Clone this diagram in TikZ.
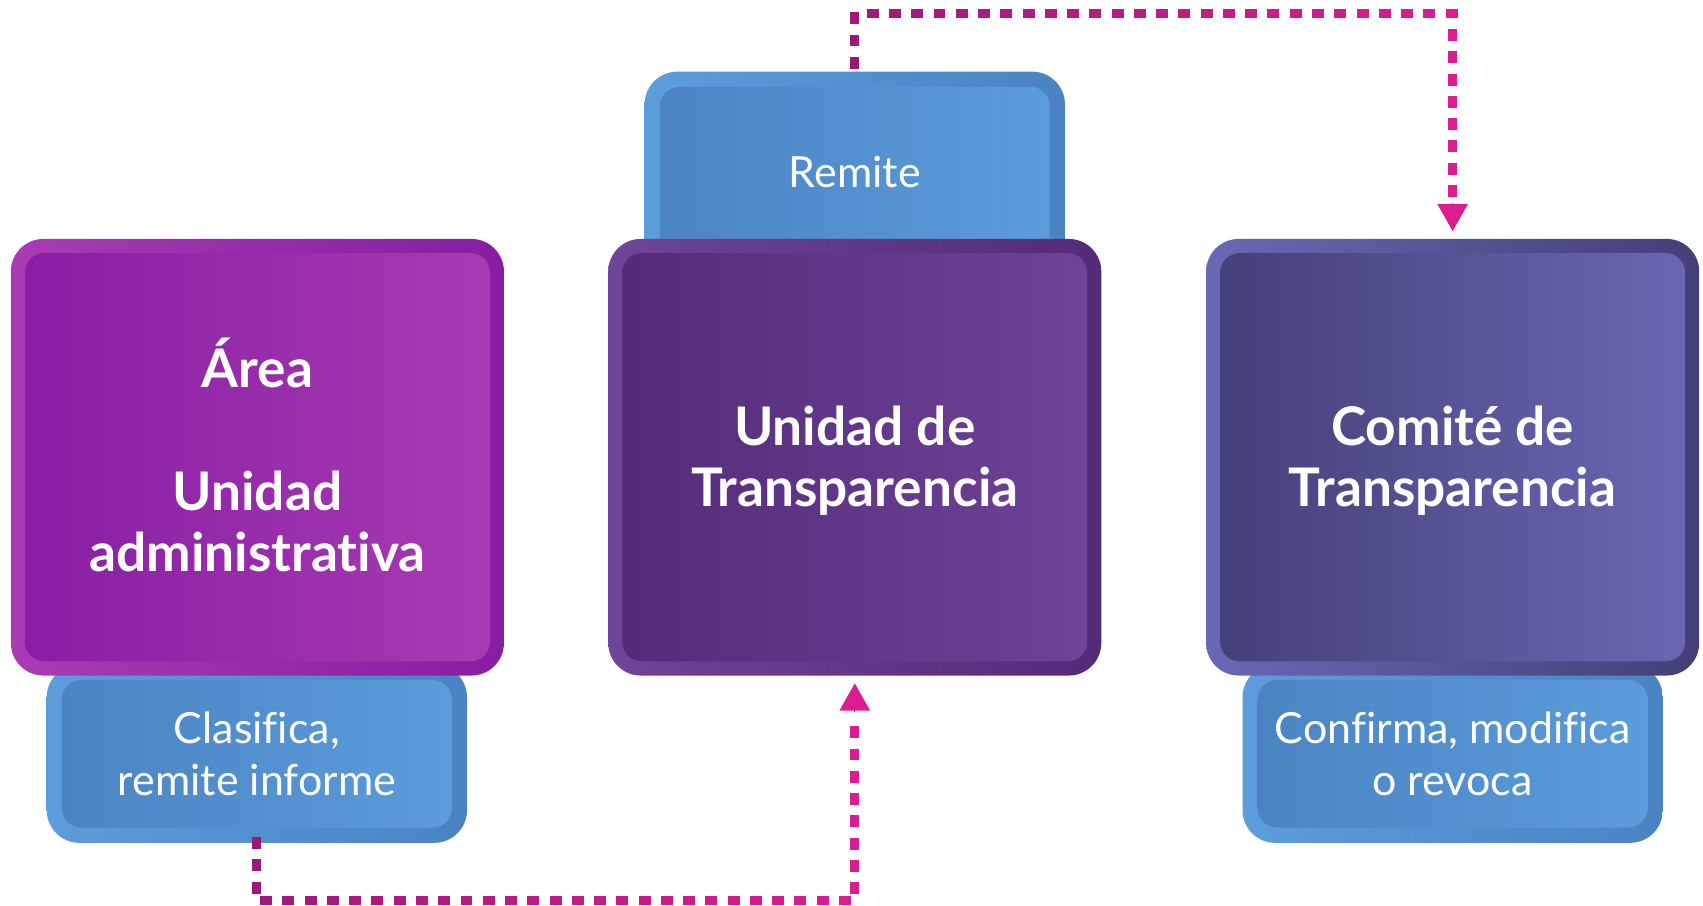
\documentclass[tikz,border=0pt]{standalone}
\usepackage{fontspec}
\setmainfont{Lato}[Ligatures=NoCommon]
\usetikzlibrary{arrows.meta,decorations.markings,calc}
\definecolor{areaA}{HTML}{861DA3}
\definecolor{areaB}{HTML}{A93CB3}
\definecolor{utA}{HTML}{542A79}
\definecolor{utB}{HTML}{6F4499}
\definecolor{ctA}{HTML}{433F78}
\definecolor{ctB}{HTML}{6A68B4}
\definecolor{blA}{HTML}{4A83C2}
\definecolor{blB}{HTML}{5C9DDB}
\definecolor{dashA}{HTML}{9C1878}
\definecolor{dashB}{HTML}{DB1E8F}
\newcommand{\shiftln}[2]{\raisebox{#1}[\height][\depth]{#2}}
\tikzset{
  panel/.style n args={3}{rounded corners=30pt, left color=#2, right color=#1,
    path picture={\shade[left color=#1, right color=#2, rounded corners=18pt]
      ([shift={(#3,#3)}]path picture bounding box.south west) rectangle
      ([shift={(-#3,-#3)}]path picture bounding box.north east);},
    text=white, align=center, inner sep=0pt},
  mainbox/.style n args={2}{panel={#1}{#2}{13pt}, minimum width=454pt, minimum height=402pt,
    font=\bfseries\fontsize{49}{56.5}\selectfont},
  bluebox/.style={panel={blA}{blB}{14pt}, minimum width=387pt,
    font=\fontsize{39.5}{48}\selectfont},
  dashconn/.style={postaction={decorate}, decoration={markings,
    mark=between positions 0 and 1 step 20.5pt with {
      \pgfmathsetmacro\fr{\pgfkeysvalueof{/pgf/decoration/mark info/distance from start}/\pgfdecoratedpathlength}
      \pgfmathtruncatemacro\pp{min(100,\fr*128)}
      \fill[dashB!\pp!dashA] (-5.5pt,-4.2pt) rectangle (5.5pt,4.2pt);}}},
  arrowtip/.style={dashB, line width=1pt, -{Triangle[length=25pt,width=28pt]}}
}
\begin{document}
\begin{tikzpicture}[x=1pt,y=-1pt]
\useasboundingbox (0,0) rectangle (1568,834);
% back boxes
\node[bluebox, minimum height=184pt] (remite) at (787,158) {Remite};
\node[bluebox, minimum height=164pt] (lblue) at (236.5,694) {Clasifica,\\remite informe};
\node[bluebox, minimum height=164pt] (rblue) at (1337.5,694) {Confirma, modifica\\o revoca};
% main boxes
\node[mainbox={areaA}{areaB}] (lbox) at (237,421) {\shiftln{2pt}{Área}\\[56pt]\shiftln{2pt}{Unidad}\\\shiftln{2pt}{administrativa}};
\node[mainbox={utA}{utB}] (mid) at (787,421) {\shiftln{-3pt}{Unidad de}\\\shiftln{-3pt}{Transparencia}};
\node[mainbox={ctA}{ctB}] (rbox) at (1337.5,421) {\shiftln{-3pt}{Comité de}\\\shiftln{-3pt}{Transparencia}};
% connectors
\path[dashconn] ([yshift=8pt]remite.north) -- ++(0,-45) -| ([yshift=33pt]rbox.north);
\draw[arrowtip] ([yshift=33pt]rbox.north) -- ([yshift=7pt]rbox.north);
\path[dashconn] (lblue.south) -- ++(0,53) -| ([yshift=-33pt]mid.south);
\draw[arrowtip] ([yshift=-33pt]mid.south) -- ([yshift=-7pt]mid.south);
\end{tikzpicture}
\end{document}
